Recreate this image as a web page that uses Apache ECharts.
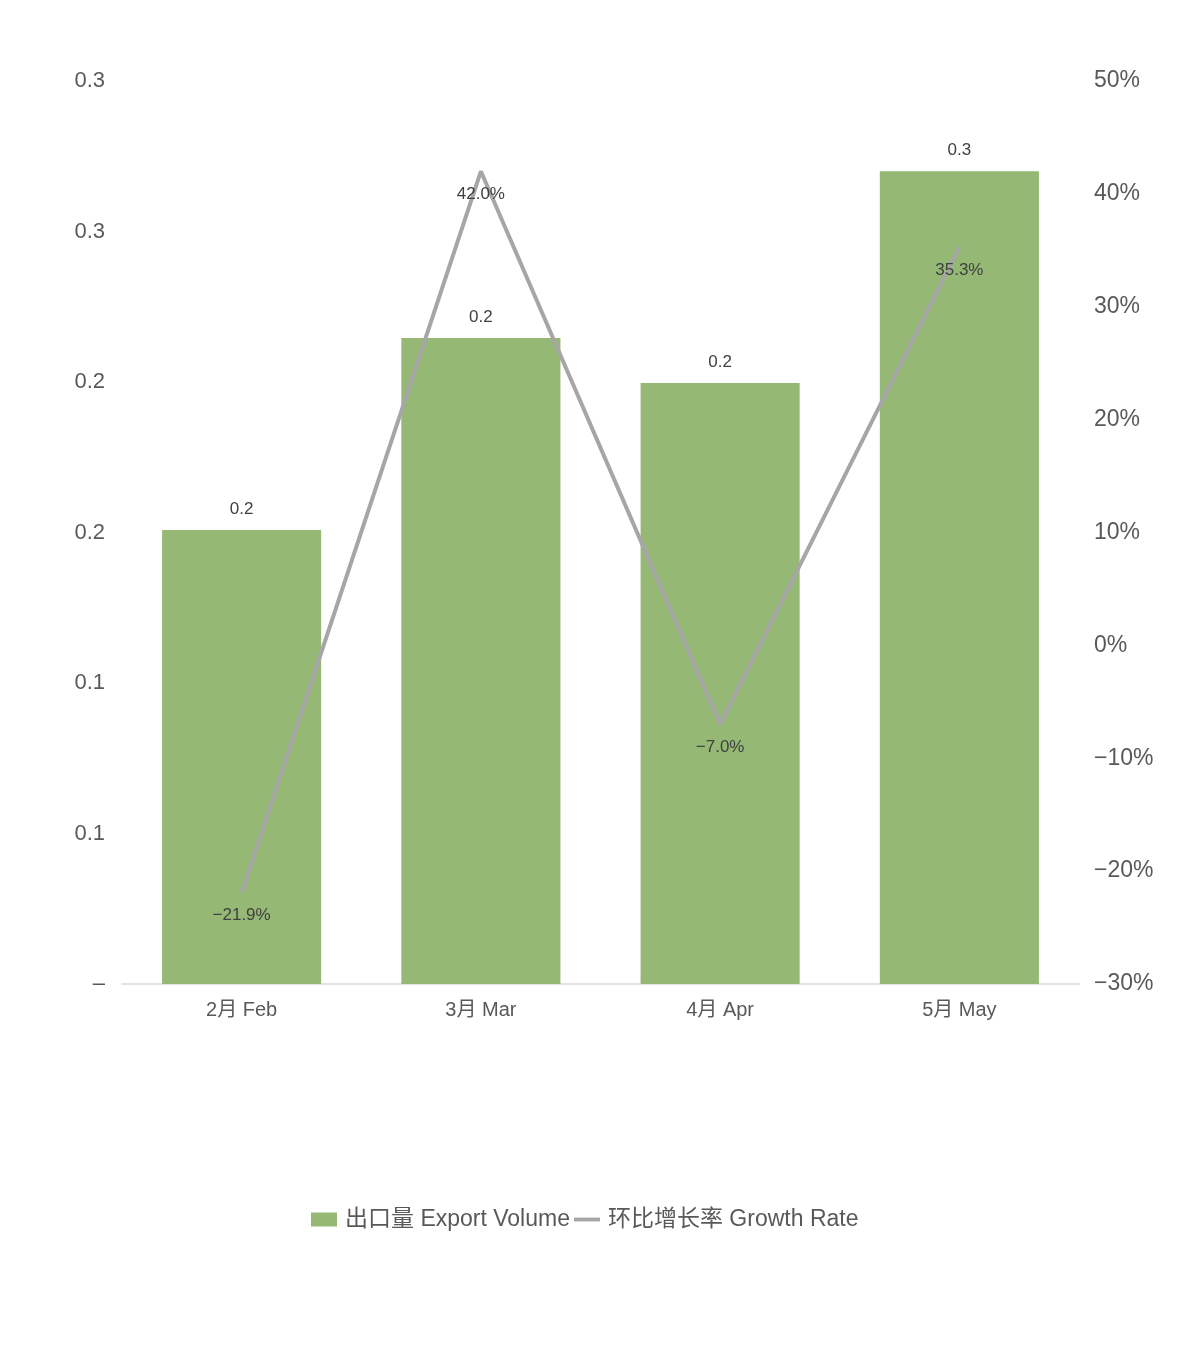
<!DOCTYPE html>
<html><head><meta charset="utf-8">
<script src="https://cdn.jsdelivr.net/npm/echarts@6/dist/echarts.min.js"></script>
<style>html,body{margin:0;padding:0;background:#fff}#c{width:1200px;height:1366px}</style>
</head><body><div id="c"></div>
<script>
const categories = ['2月 Feb', '3月 Mar', '4月 Apr', '5月 May'];
const exportVolume = [0.1508, 0.2146, 0.1997, 0.2700];
const growthRate = [-21.9, 42.0, -7.0, 35.3];
const FONT = 'Liberation Sans, Noto Sans CJK SC, sans-serif';
function r1(v){ return (Math.round(v*10 + 1e-9)/10).toFixed(1); }
function pct(v){ return (v < 0 ? '\u2212' : '') + Math.abs(v) + '%'; }
function pct1(v){ return (v < 0 ? '\u2212' : '') + Math.abs(v).toFixed(1) + '%'; }
const chart = echarts.init(document.getElementById('c'));
chart.setOption({
  animation: false,
  textStyle: { fontFamily: FONT },
  grid: { left: 122, right: 121, top: 81, bottom: 382, containLabel: false },
  legend: {
    top: 1203, left: 306, itemGap: 4, itemWidth: 26, itemHeight: 14,
    textStyle: { fontSize: 23, color: '#595959', fontFamily: FONT, padding: [0, 0, 0, 3] },
    data: [
      { name: '出口量 Export Volume', icon: 'rect' },
      { name: '环比增长率 Growth Rate', icon: 'path://M0,0 L30,0 L30,4.4 L0,4.4 Z', itemStyle: { color: '#a6a6a6' } }
    ]
  },
  xAxis: {
    type: 'category', data: categories,
    axisLine: { lineStyle: { color: '#d9d9d9', width: 1.5 } },
    axisTick: { show: false },
    axisLabel: { fontSize: 20, color: '#595959', margin: 16 }
  },
  yAxis: [
    { type: 'value', min: 0, max: 0.3, interval: 0.05, position: 'left',
      splitLine: { show: false }, axisLine: { show: false }, axisTick: { show: false },
      axisLabel: { fontSize: 22, color: '#595959', margin: 17,
        formatter: v => v === 0 ? '\u2013' : r1(v) } },
    { type: 'value', min: -30, max: 50, interval: 10, position: 'right',
      splitLine: { show: false }, axisLine: { show: false }, axisTick: { show: false },
      axisLabel: { fontSize: 23, color: '#595959', margin: 15, formatter: v => pct(v) } }
  ],
  series: [
    { name: '出口量 Export Volume', type: 'bar', data: exportVolume, barWidth: '66.5%',
      itemStyle: { color: '#95b975' },
      label: { show: true, position: 'top', distance: 12, fontSize: 17, color: '#404040',
        formatter: p => r1(p.value) } },
    { name: '环比增长率 Growth Rate', type: 'line', yAxisIndex: 1, data: growthRate,
      showSymbol: true, symbol: 'circle', symbolSize: 1,
      lineStyle: { color: '#a6a6a6', width: 4 }, itemStyle: { color: '#a6a6a6' },
      label: { show: true, position: 'bottom', distance: 14, fontSize: 17, color: '#404040',
        formatter: p => pct1(p.value) } }
  ]
});
</script></body></html>
